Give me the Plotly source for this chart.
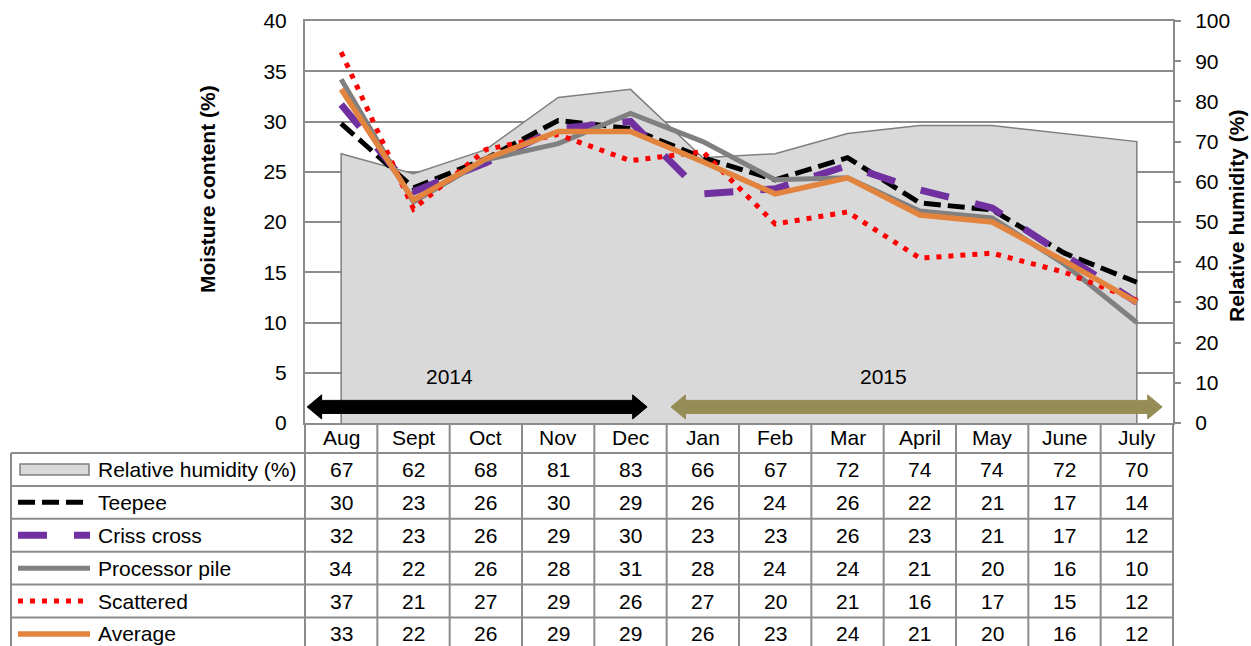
import plotly.graph_objects as go

# ---------------- data ----------------
months = ["Aug", "Sept", "Oct", "Nov", "Dec", "Jan", "Feb", "Mar", "April", "May", "June", "July"]
rel_humidity = [67, 62, 68, 81, 83, 66, 67, 72, 74, 74, 72, 70]
teepee = [29.8, 23.4, 26.3, 30.1, 29.3, 26.4, 24.2, 26.4, 21.9, 21.2, 16.9, 14.0]
criss_cross = [31.7, 23.0, 25.9, 29.3, 30.0, 22.8, 23.3, 25.6, 23.2, 21.4, 16.7, 12.0]
processor_pile = [34.2, 22.0, 26.2, 27.8, 30.8, 28.0, 24.2, 24.4, 21.1, 20.4, 15.8, 10.0]
scattered = [36.9, 21.3, 27.2, 28.7, 26.1, 27.0, 19.8, 21.0, 16.4, 16.9, 15.0, 12.2]
average = [33.2, 22.2, 26.3, 29.0, 29.0, 26.0, 22.8, 24.4, 20.7, 20.0, 16.1, 12.0]
year_labels = ["2014", "2015"]
year_spans = [(-0.47, 4.23), (4.56, 11.35)]   # in month-index units
year_label_x = [1.5, 7.5]
left_ticks = list(range(0, 41, 5))
right_ticks = list(range(0, 101, 10))

# ---------------- layout constants ----------------
W, H = 1251, 646
PL, PR, PT, PB = 305, 1173, 21, 423
FONT = "Liberation Sans, Arial, sans-serif"
FS = 21
GRID = "#8c8c8c"
TABLE_LEFT = 11
HEADER_Y = 438
ROW_TOP = 453
ROW_H = 32.9


def fx(p):
    return p / W


def fy(p):
    return 1 - p / H


n = len(months)
x = list(range(n))
XD0, XD1 = fx(PL), fx(PR)


def xpaper(i):
    return XD0 + (i + 0.5) / n * (XD1 - XD0)


def txt(text, x, y, xref="paper", yref="paper", xanchor="center", **kw):
    d = dict(text=text, x=x, y=y, xref=xref, yref=yref, xanchor=xanchor, yanchor="middle",
             showarrow=False, font=dict(family=FONT, size=FS, color="black"))
    d.update(kw)
    return d


styles = {
    "Teepee": dict(color="#000000", width=5, dash="17px,7px"),
    "Criss cross": dict(color="#7030A0", width=7, dash="29px,27px"),
    "Processor pile": dict(color="#808080", width=5),
    "Scattered": dict(color="#FF0000", width=5, dash="5px,7px"),
    "Average": dict(color="#E2843E", width=5.5),
}
series = [("Teepee", teepee), ("Criss cross", criss_cross), ("Processor pile", processor_pile),
          ("Scattered", scattered), ("Average", average)]

fig = go.Figure()

# relative humidity area (right axis, base 'y')
fig.add_trace(go.Scatter(
    x=[x[0]] + x + [x[-1]], y=[0] + rel_humidity + [0], mode="lines", fill="toself",
    fillcolor="#D9D9D9", line=dict(color="#7f7f7f", width=1.5), yaxis="y",
    hoverinfo="skip", showlegend=False))

for name, vals in series:
    fig.add_trace(go.Scatter(x=x, y=vals, mode="lines", name=name, line=styles[name],
                             yaxis="y2", showlegend=False))

shapes = []
annotations = []

# year arrows
arrow_colors = ["#000000", "#968D56"]
yc, hb, hh = 1.6, 0.65, 1.2
hl = 0.2
for (xl, xr), col in zip(year_spans, arrow_colors):
    path = (f"M {xl},{yc} L {xl+hl},{yc+hh} L {xl+hl},{yc+hb} L {xr-hl},{yc+hb} "
            f"L {xr-hl},{yc+hh} L {xr},{yc} L {xr-hl},{yc-hh} L {xr-hl},{yc-hb} "
            f"L {xl+hl},{yc-hb} L {xl+hl},{yc-hh} Z")
    shapes.append(dict(type="path", path=path, xref="x", yref="y2", fillcolor=col,
                       line=dict(color=col, width=1), layer="above"))
for lab, xi in zip(year_labels, year_label_x):
    annotations.append(txt(lab, xi, 4.6, xref="x", yref="y2"))

# ---------------- data table ----------------
line_t = dict(color=GRID, width=2)
n_rows = len(series) + 1
for k in range(n + 1):
    xp = xpaper(k - 0.5)
    shapes.append(dict(type="line", xref="paper", yref="paper", x0=xp, x1=xp,
                       y0=fy(PB), y1=fy(H + 5), line=line_t, layer="above"))
shapes.append(dict(type="line", xref="paper", yref="paper", x0=fx(TABLE_LEFT), x1=fx(TABLE_LEFT),
                   y0=fy(ROW_TOP), y1=fy(H + 5), line=line_t, layer="above"))
for r in range(n_rows + 1):
    yy = ROW_TOP + r * ROW_H
    shapes.append(dict(type="line", xref="paper", yref="paper", x0=fx(TABLE_LEFT), x1=XD1,
                       y0=fy(yy), y1=fy(yy), line=line_t, layer="above"))

for i, m in enumerate(months):
    annotations.append(txt(m, i, fy(HEADER_Y), xref="x"))

rows = [("Relative humidity (%)", rel_humidity)] + series
for r, (name, vals) in enumerate(rows):
    yc_px = ROW_TOP + (r + 0.5) * ROW_H
    annotations.append(txt(name, fx(96), fy(yc_px), xanchor="left"))
    for i, v in enumerate(vals):
        annotations.append(txt(f"{v:.0f}", i, fy(yc_px), xref="x"))
    if r == 0:
        shapes.append(dict(type="rect", xref="paper", yref="paper", x0=fx(20), x1=fx(89),
                           y0=fy(yc_px - 5.5), y1=fy(yc_px + 5.5), fillcolor="#D9D9D9",
                           line=dict(color="#7f7f7f", width=1.5), layer="above"))
    else:
        shapes.append(dict(type="line", xref="paper", yref="paper", x0=fx(18), x1=fx(90),
                           y0=fy(yc_px), y1=fy(yc_px), line=styles[name], layer="above"))

annotations.append(txt("<b>Moisture content (%)</b>", fx(207), fy(189), textangle=-90))
annotations.append(txt("<b>Relative humidity (%)</b>", fx(1237), fy(216), textangle=-90))

tickfont = dict(family=FONT, size=FS, color="black")
fig.update_layout(
    width=W, height=H, margin=dict(l=0, r=0, t=0, b=0, autoexpand=False),
    paper_bgcolor="white", plot_bgcolor="white",
    font=dict(family=FONT, size=FS, color="black"),
    xaxis=dict(domain=[XD0, XD1], range=[-0.5, n - 0.5], showgrid=False, showticklabels=False,
               ticks="", zeroline=False, showline=True, linecolor=GRID, linewidth=2, mirror=True,
               automargin=False),
    # right axis (relative humidity): labels pushed out with transparent long ticks
    yaxis=dict(domain=[fy(PB), fy(PT)], range=[0, 100], side="right", anchor="x",
               tickvals=right_ticks, ticks="outside", ticklen=16, tickcolor="rgba(0,0,0,0)",
               showgrid=False, zeroline=False, showline=True, linecolor=GRID, linewidth=2,
               tickfont=tickfont, automargin=False),
    # left axis (moisture content)
    yaxis2=dict(range=[0, 40], overlaying="y", side="left", anchor="x", tickvals=left_ticks,
                ticks="outside", ticklen=12, tickcolor="rgba(0,0,0,0)",
                showgrid=True, gridcolor=GRID, gridwidth=1.5, zeroline=False,
                showline=True, linecolor=GRID, linewidth=2, tickfont=tickfont, automargin=False),
    # visible short tick marks on the right axis
    yaxis3=dict(range=[0, 100], overlaying="y", side="right", anchor="x", tickvals=right_ticks,
                ticks="outside", ticklen=7, tickwidth=1.5, tickcolor=GRID, showticklabels=False,
                showgrid=False, zeroline=False, showline=False, automargin=False),
    shapes=shapes, annotations=annotations, hovermode=False,
)
# an invisible trace so yaxis3 is drawn
fig.add_trace(go.Scatter(x=[x[0]], y=[0], yaxis="y3", mode="markers", marker=dict(opacity=0),
                         showlegend=False, hoverinfo="skip"))

fig.write_html("out.html", config={"displayModeBar": False},
               post_script="document.body.style.margin='0';document.body.style.overflow='hidden';")
